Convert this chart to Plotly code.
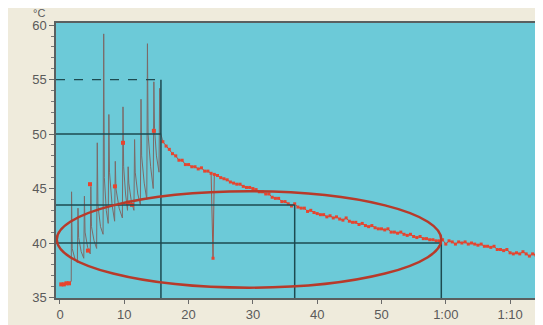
import plotly.graph_objects as go

# ---- data ----
spike_t = [0.0, 0.4, 0.8, 1.2, 1.6, 1.75,
           1.8, 1.9, 2.3, 2.7,
           2.8, 2.9, 3.3, 3.7,
           3.8, 3.9, 4.3, 4.7,
           4.8, 4.9, 5.3, 5.7,
           5.8, 5.9, 6.3, 6.7,
           6.8, 6.9, 7.2, 7.5,
           7.6, 7.7, 8.1, 8.5,
           8.6, 8.7, 9.2, 9.7,
           9.8, 9.9, 10.2, 10.5,
           10.6, 10.7, 11.1, 11.5,
           11.6, 11.7, 12.1, 12.5,
           12.6, 12.7, 13.1, 13.5,
           13.6, 13.7, 14.1, 14.5,
           14.6, 14.7, 15.0, 15.4,
           15.5, 15.6, 16.0]
spike_v = [36.2, 36.2, 36.3, 36.3, 36.4, 36.5,
           44.7, 39.5, 38.6, 38.2,
           43.2, 40.5, 39.2, 38.6,
           44.3, 41.0, 39.6, 39.0,
           45.2, 41.5, 40.2, 39.5,
           49.2, 43.5, 41.5, 40.8,
           59.2, 46.0, 43.0, 41.8,
           51.8, 46.5, 43.5, 42.0,
           47.5, 45.0, 43.2, 42.3,
           52.5, 47.0, 44.5, 43.0,
           47.0, 45.5, 43.8, 43.0,
           49.5, 46.5, 44.5, 43.5,
           53.2, 48.0, 45.5, 44.0,
           58.3, 50.0, 47.0, 45.0,
           54.8, 50.5, 48.0, 46.5,
           54.2, 50.2, 49.3]

sample_t = [0.2, 0.6, 1.0, 1.4, 4.35, 4.67, 8.55, 9.8, 10.6, 11.2, 14.6]
sample_v = [36.2, 36.2, 36.3, 36.3, 39.3, 45.4, 45.2, 49.2, 43.7, 43.5, 50.3]

decay_t = [16.0, 16.5, 17.0, 17.5, 18.0, 18.5, 19.0, 19.5, 20.0, 20.5,
           21.0, 21.5, 22.0, 22.5, 23.0, 23.5, 23.8, 24.0, 24.5, 25.0,
           25.5, 26.0, 26.5, 27.0, 27.5, 28.0, 28.5, 29.0, 29.5, 30.0,
           30.5, 31.0, 31.5, 32.0, 32.5, 33.0, 33.5, 34.0, 34.5, 35.0,
           35.5, 36.0, 36.5, 37.0, 37.5, 38.0, 38.5, 39.0, 39.5, 40.0,
           40.5, 41.0, 41.5, 42.0, 42.5, 43.0, 43.5, 44.0, 44.5, 45.0,
           45.5, 46.0, 46.5, 47.0, 47.5, 48.0, 48.5, 49.0, 49.5, 50.0,
           50.5, 51.0, 51.5, 52.0, 52.5, 53.0, 53.5, 54.0, 54.5, 55.0,
           55.5, 56.0, 56.5, 57.0, 57.5, 58.0, 58.5, 59.0, 59.5, 60.0,
           60.5, 61.0, 61.5, 62.0, 62.5, 63.0, 63.5, 64.0, 64.5, 65.0,
           65.5, 66.0, 66.5, 67.0, 67.5, 68.0, 68.5, 69.0, 69.5, 70.0,
           70.5, 71.0, 71.5, 72.0, 72.5, 73.0, 73.5, 74.0, 74.5]
decay_v = [49.3, 48.9, 48.6, 48.2, 48.0, 47.6, 47.6, 47.2, 47.2, 47.0,
           47.0, 46.8, 46.9, 46.6, 46.6, 46.4, 38.6, 46.3, 46.2, 46.0,
           45.9, 45.8, 45.6, 45.5, 45.4, 45.4, 45.2, 45.1, 45.1, 45.0,
           44.9, 44.7, 44.7, 44.5, 44.5, 44.2, 44.1, 44.1, 43.8, 43.8,
           43.6, 43.4, 43.6, 43.3, 43.2, 43.2, 42.9, 43.0, 42.8, 42.7,
           42.6, 42.6, 42.4, 42.5, 42.3, 42.4, 42.2, 42.1, 42.3, 42.0,
           41.9, 41.9, 41.7, 41.8, 41.6, 41.5, 41.6, 41.4, 41.3, 41.3,
           41.2, 41.3, 41.0, 41.0, 40.9, 41.0, 40.8, 40.7, 40.8, 40.6,
           40.5, 40.6, 40.4, 40.4, 40.3, 40.3, 40.2, 40.2, 40.3, 39.9,
           40.2, 40.1, 39.9, 40.1, 40.0, 40.1, 39.9, 40.0, 39.9, 39.8,
           39.9, 39.7, 39.7, 39.6, 39.7, 39.4, 39.4, 39.3, 39.4, 39.1,
           39.0, 39.1, 39.0, 39.2, 39.0, 38.8, 39.0, 38.9, 39.0]

x_tickvals = [0, 10, 20, 30, 40, 50, 60, 70]
x_ticktext = ["0", "10", "20", "30", "40", "50", "1:00", "1:10"]
y_tickvals = [35, 40, 45, 50, 55, 60]

# reference markers (time, temperature)
ref_t = [15.7, 36.5, 59.3]
ref_v = [50.0, 43.5, 40.0]
ref_dash_v = 55.0
ref_dash_end = 14.8
ellipse_x = [-0.5, 59.3]
ellipse_y = [35.9, 44.75]

X0, X1 = -0.62, 74.65
Y0, Y1 = 34.95, 60.2

fig = go.Figure()
fig.add_trace(go.Scatter(x=spike_t, y=spike_v, mode="lines",
                         line=dict(color="#7c6a68", width=1), hoverinfo="skip"))
fig.add_trace(go.Scatter(x=sample_t, y=sample_v, mode="markers",
                         marker=dict(color="#e8442e", size=4, symbol="square"), hoverinfo="skip"))
fig.add_trace(go.Scatter(x=decay_t, y=decay_v, mode="lines+markers",
                         line=dict(color="#9a5a50", width=1),
                         marker=dict(color="#e8442e", size=3, symbol="square"), hoverinfo="skip"))

lc = "#1d4a50"
shapes = []
shapes.append(dict(type="line", x0=X0, x1=ref_dash_end, y0=ref_dash_v, y1=ref_dash_v,
                   line=dict(color=lc, width=1.2, dash="dash")))
for i, (t, v) in enumerate(zip(ref_t, ref_v)):
    shapes.append(dict(type="line", x0=X0, x1=t, y0=v, y1=v, line=dict(color=lc, width=1.5)))
    top = ref_dash_v if i == 0 else v
    shapes.append(dict(type="line", x0=t, x1=t, y0=Y0, y1=top, line=dict(color=lc, width=1.5)))
shapes.append(dict(type="circle", x0=ellipse_x[0], x1=ellipse_x[1], y0=ellipse_y[0], y1=ellipse_y[1],
                   line=dict(color="#b83a2a", width=2.5)))

fig.update_layout(
    width=535, height=317,
    margin=dict(l=48, r=3, t=15, b=27, autoexpand=False),
    paper_bgcolor="#efebdc", plot_bgcolor="#6ccad8",
    showlegend=False,
    shapes=shapes,
    font=dict(family="Liberation Sans, Arial, sans-serif", size=13, color="#5a5a5a"),
    annotations=[dict(text="°C", xref="paper", yref="paper", x=-0.02, y=1.0,
                      xanchor="right", yanchor="bottom", showarrow=False, yshift=3,
                      borderpad=0, font=dict(size=11, color="#5a5a5a"))],
)
fig.update_xaxes(range=[X0, X1], tickvals=x_tickvals, ticktext=x_ticktext,
                 showgrid=False, zeroline=False, ticks="outside", ticklen=4,
                 tickcolor="#6a6a6a", showline=True, linecolor="#5a6060", linewidth=1.5,
                 mirror=True)
fig.update_yaxes(range=[Y0, Y1], tickvals=y_tickvals,
                 showgrid=False, zeroline=False, ticks="outside", ticklen=5,
                 tickcolor="#6a6a6a", showline=True, linecolor="#5a6060", linewidth=1.5,
                 mirror=True,
                 minor=dict(dtick=1, ticks="outside", ticklen=3, tickcolor="#7a7a7a"))

fig.write_html("out.html")
